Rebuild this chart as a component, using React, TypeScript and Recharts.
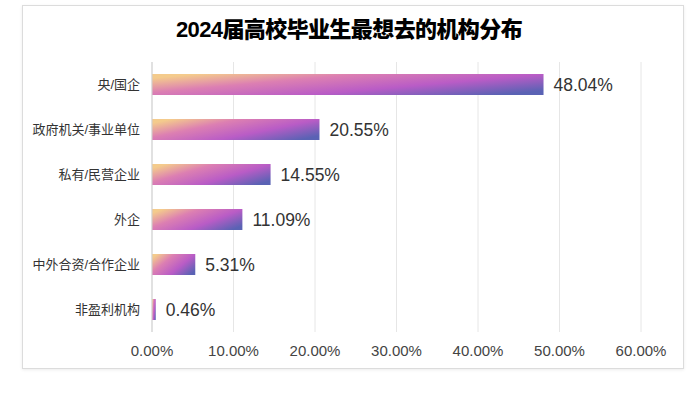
import * as React from 'react';
import { BarChart, Bar, XAxis, YAxis, CartesianGrid, LabelList, ReferenceLine } from 'recharts';

// 2024届高校毕业生最想去的机构分布
const categories = ['央/国企', '政府机关/事业单位', '私有/民营企业', '外企', '中外合资/合作企业', '非盈利机构'];
const shares = [48.04, 20.55, 14.55, 11.09, 5.31, 0.46];
const xTicks = [0, 10, 20, 30, 40, 50, 60];

const data = categories.map((name, i) => ({ name, value: shares[i] }));

const FONT = '"Liberation Sans", Arial, "Noto Sans CJK SC", sans-serif';

export default function App() {
  return (
    <div style={{ position: 'fixed', left: 0, top: 0, width: 698, height: 398, background: '#fff', fontFamily: FONT }}>
      <div
        style={{
          position: 'absolute',
          left: 22,
          top: 5,
          width: 660,
          height: 362,
          border: '1px solid #dcdcdc',
          boxShadow: '0 1px 3px rgba(0,0,0,0.08)',
          background: '#fff',
        }}
      />
      <div
        style={{
          position: 'absolute',
          left: 0,
          top: 11,
          width: 698,
          textAlign: 'center',
          fontSize: 22,
          fontWeight: 900,
          color: '#000',
          fontFamily: '"Liberation Sans", Arial, "Noto Sans CJK SC", sans-serif',
          letterSpacing: -0.6,
        }}
      >
        2024届高校毕业生最想去的机构分布
      </div>
      <div style={{ position: 'absolute', left: 0, top: 0 }}>
        <BarChart
          width={698}
          height={398}
          data={data}
          layout="vertical"
          margin={{ top: 62, right: 57, left: 22, bottom: 36 }}
          barSize={21}
        >
          <defs>
            <linearGradient id="barGrad" x1="0" y1="0.2" x2="1" y2="0.8">
              <stop offset="0%" stopColor="#f4cb8c" />
              <stop offset="30%" stopColor="#dc7fb2" />
              <stop offset="65%" stopColor="#b95cc6" />
              <stop offset="100%" stopColor="#5a62b4" />
            </linearGradient>
          </defs>
          <CartesianGrid horizontal={false} stroke="#e6e6e6" />
          <XAxis
            type="number"
            domain={[0, 60]}
            ticks={xTicks}
            tickFormatter={(v: number) => `${v.toFixed(2)}%`}
            axisLine={false}
            tickLine={false}
            tickMargin={7}
            height={30}
            tick={{ fontSize: 15, fill: '#444', fontFamily: FONT }}
          />
          <YAxis
            type="category"
            dataKey="name"
            width={130}
            axisLine={false}
            tickLine={false}
            tickMargin={6}
            tick={{ fontSize: 13, fill: '#333', fontFamily: FONT }}
          />
          <ReferenceLine x={0} stroke="#cfcfcf" />
          <Bar dataKey="value" fill="url(#barGrad)" isAnimationActive={false}>
            <LabelList
              dataKey="value"
              position="right"
              offset={10}
              formatter={(v: number) => `${v.toFixed(2)}%`}
              style={{ fontSize: 17.5, fill: '#333', fontFamily: FONT }}
            />
          </Bar>
        </BarChart>
      </div>
    </div>
  );
}
